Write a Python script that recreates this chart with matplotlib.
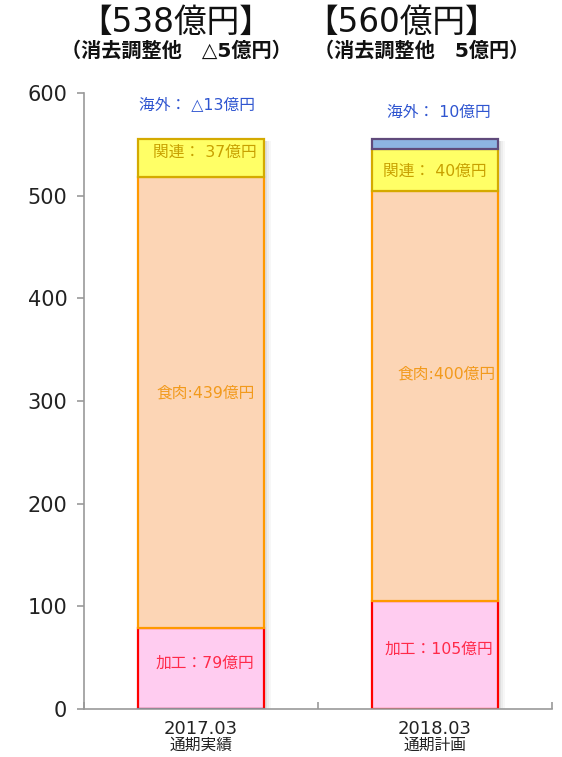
import matplotlib
matplotlib.use("Agg")
import matplotlib.pyplot as plt
import matplotlib.patheffects as pe
import numpy as np

plt.rcParams["font.family"] = ["DejaVu Sans", "Noto Sans CJK JP"]

periods = ["2017.03", "2018.03"]
period_notes = ["通期実績", "通期計画"]
totals = ["【538億円】", "【560億円】"]
adjust = ["（消去調整他　△5億円）", "（消去調整他　5億円）"]

kakou = [79, 105]      # 加工
shokuniku = [439, 400]  # 食肉
kanren = [37, 40]       # 関連
kaigai = [-13, 10]      # 海外

kakou_lbl = ["加工：79億円", "加工：105億円"]
shoku_lbl = ["食肉:439億円", "食肉:400億円"]
kanren_lbl = ["関連： 37億円", "関連： 40億円"]
kaigai_lbl = ["海外： △13億円", "海外： 10億円"]

fig = plt.figure(figsize=(5.62, 7.57), dpi=100)
ax = fig.add_axes([0.1495, 0.0634, 0.8325, 0.8137])

x = np.arange(len(periods))
w = 0.54
kakou = np.array(kakou)
shokuniku = np.array(shokuniku)
kanren = np.array(kanren)
kaigai = np.array(kaigai)

# soft drop shadow behind each stack
stack_top = kakou + shokuniku + kanren + np.clip(kaigai, 0, None)
shadow = [pe.SimplePatchShadow(offset=(o, -1), shadow_rgbFace="#808080", alpha=a)
          for o, a in [(5, 0.06), (3.5, 0.08), (2, 0.12)]] + [pe.Normal()]
ax.bar(x, stack_top, w, color="white", edgecolor="none", zorder=1, path_effects=shadow)

lw = 1.6
ax.bar(x, kakou, w, color="#ffccf0", edgecolor="#ff0000", lw=lw, zorder=2)
ax.bar(x, shokuniku, w, bottom=kakou, color="#fcd5b5", edgecolor="#ff9900", lw=lw, zorder=2)
ax.bar(x, kanren, w, bottom=kakou + shokuniku, color="#ffff66", edgecolor="#d4aa00", lw=lw, zorder=2)
kai_bottom = np.where(kaigai > 0, kakou + shokuniku + kanren, 0)
ax.bar(x, kaigai, w, bottom=kai_bottom, color="#8db4e2", edgecolor="#604a7b", lw=lw, zorder=2)

# segment labels
kakou_pos = [(0.017, 45), (0.017, 58)]
shoku_pos = [(0.02, 308), (0.05, 326)]
kanren_pos = [(0.017, 542), (0.0, 524)]
kaigai_pos = [(-0.017, 588), (0.017, 581)]
for i in range(len(periods)):
    ax.text(x[i] + kakou_pos[i][0], kakou_pos[i][1], kakou_lbl[i], ha="center", va="center",
            fontsize=11.3, color="#ff2a4a")
    ax.text(x[i] + shoku_pos[i][0], shoku_pos[i][1], shoku_lbl[i], ha="center", va="center",
            fontsize=11.3, color="#f29a1c")
    ax.text(x[i] + kanren_pos[i][0], kanren_pos[i][1], kanren_lbl[i], ha="center", va="center",
            fontsize=11.3, color="#c8a000")
    ax.text(x[i] + kaigai_pos[i][0], kaigai_pos[i][1], kaigai_lbl[i], ha="center", va="center",
            fontsize=11.3, color="#2f55d0")

ax.set_xlim(-0.5, 1.5)
ax.set_ylim(0, 600)
ax.set_yticks(range(0, 601, 100))
ax.set_xticks([-0.5, 0.5, 1.5])
ax.set_xticklabels([])
ax.tick_params(axis="y", labelsize=15, colors="#999999", labelcolor="#222222", length=5,
               width=1.2, pad=7)
ax.tick_params(axis="x", colors="#999999", length=5, width=1.2, direction="in")
for s in ("top", "right"):
    ax.spines[s].set_visible(False)
for s in ("left", "bottom"):
    ax.spines[s].set_color("#999999")
    ax.spines[s].set_linewidth(1.2)
    ax.spines[s].set_zorder(3)

for i in range(len(periods)):
    ax.text(x[i], -0.032, periods[i], transform=ax.get_xaxis_transform(), ha="center", va="center",
            fontsize=13, color="#222222")
    ax.text(x[i], -0.059, period_notes[i], transform=ax.get_xaxis_transform(), ha="center",
            va="center", fontsize=11.3, color="#222222")

# headline totals above each bar
title_x = [176, 402]
note_x = [176, 422]
for i in range(len(periods)):
    fig.text(title_x[i] / 562, 1 - 22 / 757, totals[i], ha="center", va="center",
             fontsize=23.5, color="#111111")
    fig.text(note_x[i] / 562, 1 - 51 / 757, adjust[i], ha="center", va="center",
             fontsize=14.5, fontweight="bold", color="#111111")

fig.savefig("out.png", dpi=100)
